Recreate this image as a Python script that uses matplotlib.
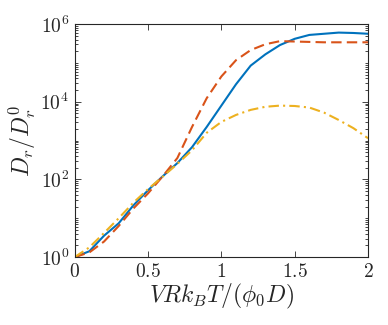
import matplotlib
matplotlib.use("Agg")
import matplotlib.pyplot as plt
import numpy as np
from matplotlib.ticker import LogLocator, FixedLocator, NullFormatter

plt.rcParams['font.family'] = 'serif'
plt.rcParams['font.serif'] = ['Liberation Serif', 'DejaVu Serif']
plt.rcParams['mathtext.fontset'] = 'cm'
axis_color = '#262626'
plt.rcParams['text.color'] = axis_color
plt.rcParams['axes.labelcolor'] = axis_color
plt.rcParams['xtick.color'] = axis_color
plt.rcParams['ytick.color'] = axis_color
plt.rcParams['axes.edgecolor'] = axis_color

x_blue = [0, 0.1, 0.2, 0.3, 0.4, 0.5, 0.6, 0.7, 0.8, 0.9, 1.0, 1.1, 1.2, 1.3, 1.4, 1.5, 1.6, 1.7, 1.8, 1.9, 2.0]
log_blue = [0, 0.15, 0.55, 0.87, 1.33, 1.72, 2.08, 2.42, 2.83, 3.35, 3.9, 4.45, 4.93, 5.22, 5.46, 5.62, 5.72, 5.75, 5.78, 5.77, 5.75]

x_red = [0, 0.1, 0.2, 0.3, 0.4, 0.5, 0.6, 0.7, 0.8, 0.9, 1.0, 1.1, 1.2, 1.3, 1.4, 1.5, 1.6, 1.7, 1.8, 1.9, 2.0]
log_red = [0, 0.12, 0.4, 0.8, 1.25, 1.64, 2.08, 2.55, 3.35, 4.09, 4.65, 5.07, 5.33, 5.48, 5.56, 5.55, 5.54, 5.53, 5.53, 5.53, 5.53]

x_yel = [0, 0.1, 0.2, 0.3, 0.4, 0.5, 0.6, 0.7, 0.8, 0.9, 1.0, 1.1, 1.2, 1.3, 1.4, 1.5, 1.6, 1.7, 1.8, 1.9, 2.0]
log_yel = [0, 0.25, 0.62, 1.0, 1.4, 1.75, 2.07, 2.4, 2.75, 3.2, 3.48, 3.66, 3.79, 3.87, 3.9, 3.89, 3.85, 3.72, 3.53, 3.32, 3.06]

x_ticks = [0, 0.5, 1, 1.5, 2]
x_ticklabels = ['$0$', '$0.5$', '$1$', '$1.5$', '$2$']
y_ticks = [1, 1e2, 1e4, 1e6]
y_ticklabels = [r'$10^{0}$', r'$10^{2}$', r'$10^{4}$', r'$10^{6}$']

fig = plt.figure(figsize=(3.88, 3.25), dpi=100)
ax = fig.add_axes([0.1925, 0.209, 0.756, 0.717])

ax.plot(x_blue, 10 ** np.array(log_blue), color='#0072BD', lw=1.5, ls='-')
ax.plot(x_red, 10 ** np.array(log_red), color='#D95319', lw=1.5, ls=(0, (5, 2.5)))
ax.plot(x_yel, 10 ** np.array(log_yel), color='#EDB120', lw=1.5, ls=(0, (5, 2, 1, 2)))

ax.set_yscale('log')
ax.set_xlim(0, 2)
ax.set_ylim(1, 1e6)
ax.xaxis.set_major_locator(FixedLocator(x_ticks))
ax.set_xticklabels(x_ticklabels)
ax.yaxis.set_major_locator(FixedLocator(y_ticks))
ax.set_yticklabels(y_ticklabels)
ax.yaxis.set_minor_locator(LogLocator(base=10, subs=np.arange(1, 10), numticks=20))
ax.yaxis.set_minor_formatter(NullFormatter())

ax.tick_params(which='both', direction='in', top=True, right=True, labelsize=14, width=0.6)
ax.tick_params(which='major', length=4, pad=4)
ax.tick_params(which='minor', length=2)
for s in ax.spines.values():
    s.set_linewidth(0.8)

ax.set_xlabel(r'$VRk_BT/(\phi_0 D)$', fontsize=17, labelpad=1)
ax.set_ylabel(r'$D_r/D_r^0$', fontsize=17, labelpad=2)

fig.savefig('out.png', dpi=100)
